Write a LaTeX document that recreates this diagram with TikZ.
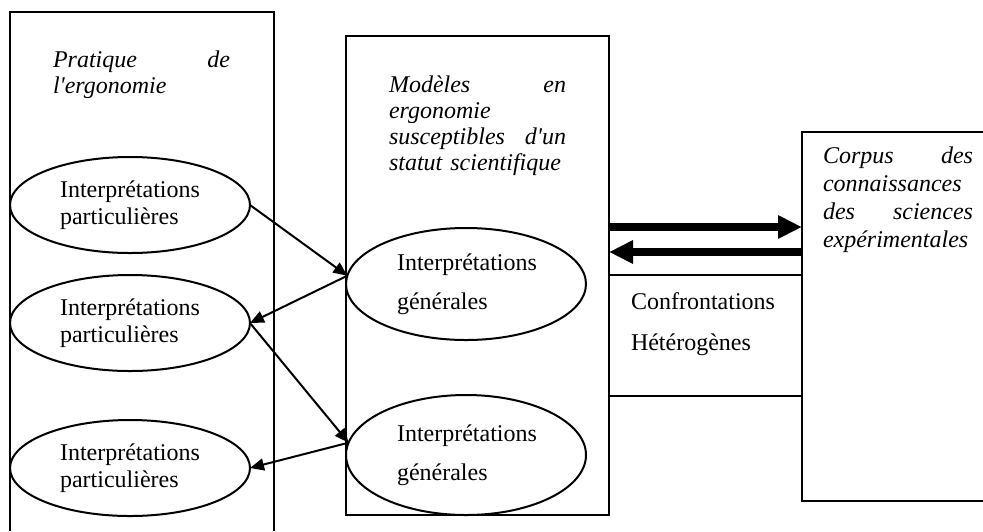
\documentclass[tikz,border=0pt]{standalone}
\usepackage{fontspec}
\setmainfont{Liberation Serif}
\usetikzlibrary{shapes,arrows.meta}

\begin{document}
\begin{tikzpicture}[x=0.5pt,y=-0.5pt]
\tikzstyle{every node}=[inner sep=0pt, outer sep=0pt]
\tikzstyle{frame}=[draw, line width=1pt]
\tikzstyle{interp}=[ellipse, draw, line width=1pt, minimum width=120pt,
  minimum height=48pt, align=left, font=\fontsize{12}{13.5}\selectfont]
\tikzstyle{general}=[interp, text width=69pt, font=\fontsize{12}{19.5}\selectfont]
\tikzstyle{title}=[anchor=base west, align=left,
  font=\fontsize{12}{13}\selectfont\itshape]
\tikzstyle{fine}=[line width=1pt, -{Triangle[length=7pt,width=6pt]}]
\tikzstyle{flux}=[line width=4pt, -{Triangle[length=12pt,width=11pt]}]
\useasboundingbox (0,0) rectangle (983,531);

\draw[frame] (10,531) -- (10,12) -- (274,12) -- (274,531);
\node[frame, minimum width=131.5pt, minimum height=239.5pt] (modeles) at (477.5,275.5) {};
\node[frame, minimum width=96.5pt, minimum height=60.5pt] (confront) at (705.5,335.5) {};
\draw[frame] (983,132) -- (802,132) -- (802,501) -- (983,501);

\node[title, text width=88.5pt] (pratique) at (53,67) {Pratique\hfill de\\l\textquotesingle ergonomie};
\node[title, text width=88.5pt] (modtitre) at (389,92)
  {Modèles\hfill en\\ergonomie\\susceptibles\hfill d\textquotesingle un\\statut scientifique};
\node[title, text width=75pt, font=\fontsize{12}{14}\selectfont\itshape] (corpus) at (823,163)
  {Corpus\hfill des\\connaissances\\des\hfill sciences\\expérimentales};
\node[anchor=base west, text width=80pt, align=left, font=\fontsize{12}{20.5}\selectfont]
  (confrtexte) at (631,309) {Confrontations\\Hétérogènes};

\node[interp] (part1) at (130,205) {Interprétations\\particulières};
\node[interp] (part2) at (130,323) {Interprétations\\particulières};
\node[interp] (part3) at (130,468) {Interprétations\\particulières};
\node[general, minimum height=56pt] (gen1) at (466,284) {Interprétations\\générales};
\node[general, minimum height=60pt] (gen2) at (466,455) {Interprétations\\générales};

\draw[fine] (part1.east) -- (gen1.176);
\draw[fine] (gen1.176) -- (part2.east);
\draw[fine] (part2.east) -- (gen2.174);
\draw[fine] (gen2.174) -- (part3.east);

\coordinate (versCorpus) at (802,227);
\coordinate (deCorpus) at (802,252);
\draw[flux] (modeles.east |- versCorpus) -- (versCorpus);
\draw[flux] (deCorpus) -- (modeles.east |- deCorpus);
\end{tikzpicture}
\end{document}
